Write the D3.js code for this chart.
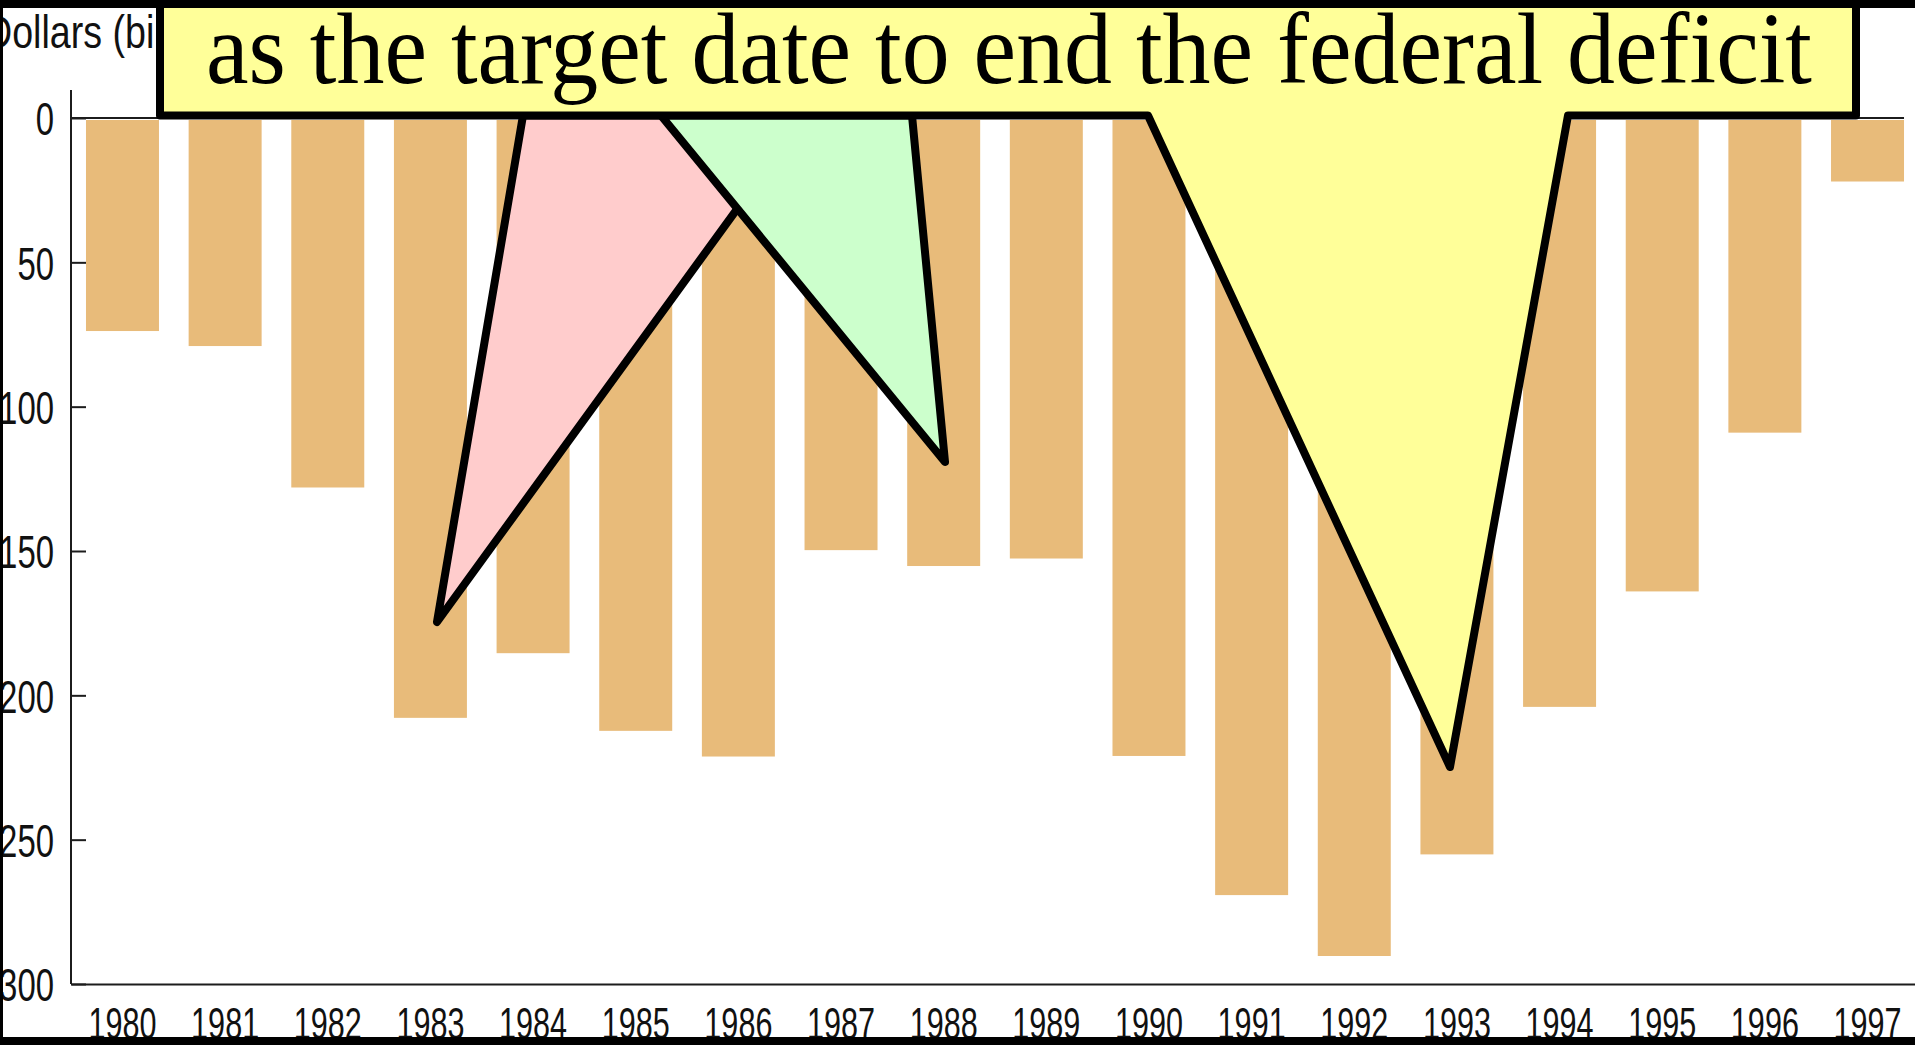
<!DOCTYPE html>
<html>
<head>
<meta charset="utf-8">
<script src="https://cdn.jsdelivr.net/npm/d3@7"></script>
<style>
  html, body { margin: 0; padding: 0; background: #000; overflow: hidden; }
  svg { display: block; }
</style>
</head>
<body>
<svg id="chart" width="1915" height="1045"></svg>
<script>
// ---- data ----
const years = ["1980","1981","1982","1983","1984","1985","1986","1987","1988",
               "1989","1990","1991","1992","1993","1994","1995","1996","1997"];
const deficits = [73.8, 79.0, 128.0, 207.8, 185.4, 212.3, 221.2, 149.7, 155.2,
                  152.6, 221.0, 269.2, 290.3, 255.1, 204.0, 164.0, 109.0, 22.0];
const yTicks = [0, 50, 100, 150, 200, 250, 300];
const yTitle = "Dollars (billions)";
const calloutText = "as the target date to end the federal deficit";

// ---- layout ----
const W = 1915, H = 1045;
const svg = d3.select("#chart");

svg.append("rect").attr("x", 0).attr("y", 0).attr("width", W).attr("height", H).attr("fill", "#000");

const defs = svg.append("defs");
defs.append("clipPath").attr("id", "pic")
  .append("rect").attr("x", 3).attr("y", 8).attr("width", W - 3).attr("height", 1029);

const pic = svg.append("g").attr("clip-path", "url(#pic)");
pic.append("rect").attr("x", 3).attr("y", 8).attr("width", W - 3).attr("height", 1029).attr("fill", "#fff");

const x = d3.scaleBand().domain(years).range([71, 1919]).paddingInner(0.289).paddingOuter(0.146);
const y = d3.scaleLinear().domain([0, 300]).range([118, 984]);

const sans = "'Liberation Sans', Arial, Helvetica, sans-serif";
const axisColor = "#1c1c1c";

function condense(sel, f) {
  sel.each(function () {
    const len = this.getComputedTextLength();
    d3.select(this).attr("textLength", len * f).attr("lengthAdjust", "spacingAndGlyphs");
  });
}

// bars
pic.append("g").selectAll("rect").data(deficits).join("rect")
  .attr("x", (d, i) => x(years[i]))
  .attr("y", y(0) + 2)
  .attr("width", x.bandwidth())
  .attr("height", d => y(d) - y(0) - 2)
  .attr("fill", "#E8BB7A");

// zero line
pic.append("line")
  .attr("x1", x.range()[0]).attr("x2", x(years[years.length - 1]) + x.bandwidth())
  .attr("y1", y(0)).attr("y2", y(0))
  .attr("stroke", axisColor).attr("stroke-width", 2);

// y axis
const gY = pic.append("g").attr("transform", `translate(${x.range()[0]},0)`)
  .call(d3.axisLeft(y).tickValues(yTicks).tickSizeInner(-15).tickSizeOuter(0).tickPadding(17));
gY.select(".domain").remove();
gY.selectAll(".tick line").attr("stroke", axisColor).attr("stroke-width", 2);
gY.selectAll(".tick text").attr("font-family", sans).attr("font-size", 47).attr("fill", "#111").attr("dy", "0.36em");
condense(gY.selectAll(".tick text"), 0.7);
pic.append("line")
  .attr("x1", x.range()[0]).attr("x2", x.range()[0])
  .attr("y1", y(0) - 28).attr("y2", y(300))
  .attr("stroke", axisColor).attr("stroke-width", 2);

// x axis
const gX = pic.append("g").attr("transform", `translate(0,${y(300)})`)
  .call(d3.axisBottom(x).tickSize(0).tickPadding(23));
gX.select(".domain").attr("stroke", axisColor).attr("stroke-width", 2);
gX.selectAll(".tick text").attr("font-family", sans).attr("font-size", 45).attr("fill", "#111");
condense(gX.selectAll(".tick text"), 0.68);

// y title
const t = pic.append("text").attr("x", -15).attr("y", 48)
  .attr("font-family", sans).attr("font-size", 47).attr("fill", "#111").text(yTitle);
condense(t, 0.8);

// ---- callouts ----
const line = d3.line();
const yb = 115.5; // bottom edge of the callout box

// pink pointer
svg.append("path")
  .attr("d", line([[523, yb], [805, yb], [437, 622]]) + "Z")
  .attr("fill", "#FFCCCC").attr("stroke", "#000").attr("stroke-width", 8).attr("stroke-linejoin", "round");

// green pointer
svg.append("path")
  .attr("d", line([[661, yb], [912, yb], [945, 462]]) + "Z")
  .attr("fill", "#CCFFCC").attr("stroke", "#000").attr("stroke-width", 8).attr("stroke-linejoin", "round");

// yellow callout box with pointer
svg.append("path")
  .attr("d", line([[160, 4], [1856, 4], [1856, yb], [1568, yb], [1450, 767], [1148, yb], [160, yb]]) + "Z")
  .attr("fill", "#FFFF99").attr("stroke", "#000").attr("stroke-width", 8).attr("stroke-linejoin", "round");

svg.append("text")
  .attr("x", 206).attr("y", 83)
  .attr("font-family", "'Liberation Serif', 'Times New Roman', serif")
  .attr("font-size", 102).attr("fill", "#000")
  .attr("textLength", 1606).attr("lengthAdjust", "spacingAndGlyphs")
  .text(calloutText);
</script>
</body>
</html>
